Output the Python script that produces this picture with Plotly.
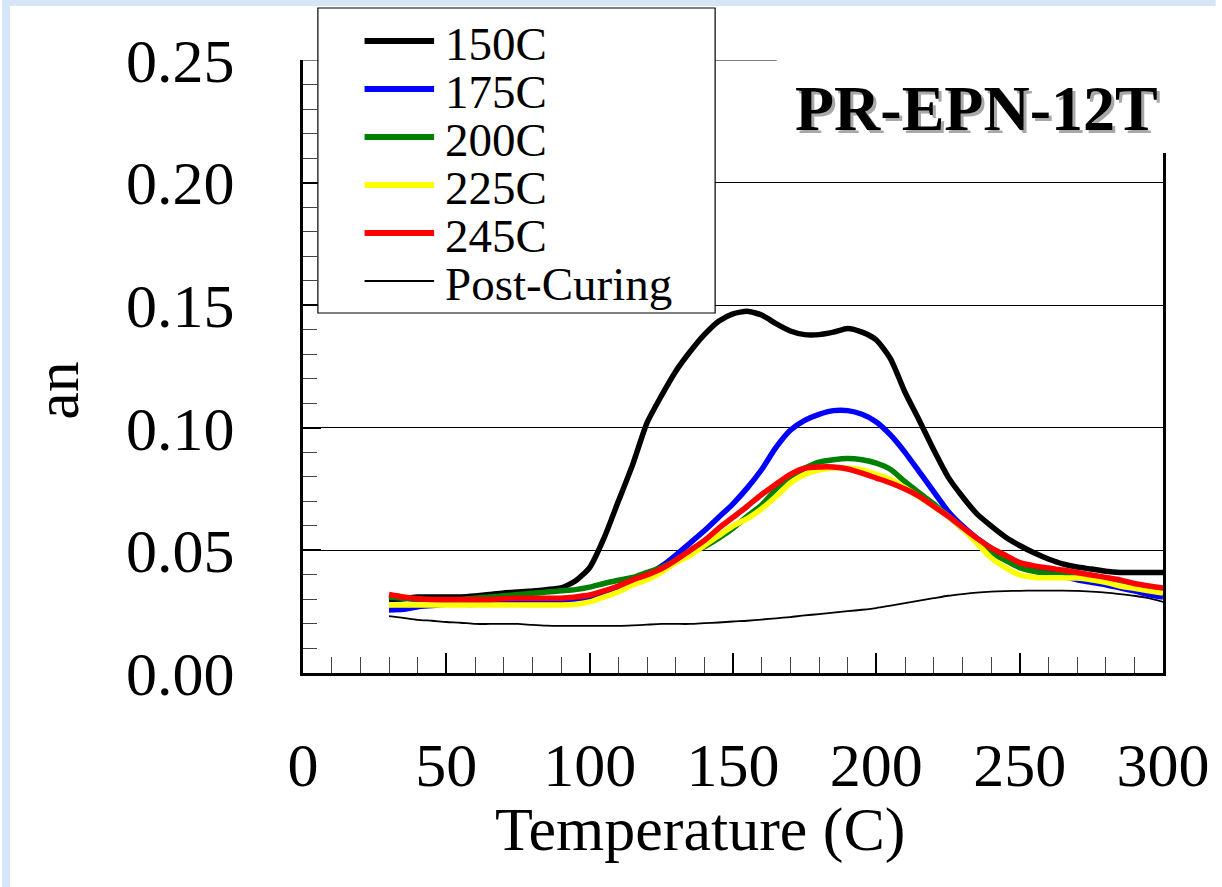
import plotly.graph_objects as go

# ---------------- data ----------------
temperature = [30, 35, 40, 45, 50, 55, 60, 65, 70, 75, 80, 85, 90, 95, 100, 105, 110, 115, 120, 125,
               130, 135, 140, 145, 150, 155, 160, 165, 170, 175, 180, 185, 190, 195, 200, 205, 210,
               215, 220, 225, 230, 235, 240, 245, 250, 255, 260, 265, 270, 275, 280, 285, 290, 295, 300]

tan_150C = [0.030, 0.0303, 0.031, 0.031, 0.031, 0.031, 0.0314, 0.032, 0.0326, 0.033, 0.0334, 0.034,
            0.0347, 0.0375, 0.043, 0.055, 0.070, 0.085, 0.102, 0.113, 0.123, 0.131, 0.138, 0.1435,
            0.1465, 0.1475, 0.146, 0.1425, 0.1395, 0.138, 0.138, 0.139, 0.1405, 0.139, 0.1358, 0.128,
            0.1145, 0.103, 0.091, 0.080, 0.072, 0.065, 0.060, 0.0555, 0.052, 0.049, 0.0465, 0.0445,
            0.0432, 0.0424, 0.0415, 0.041, 0.041, 0.041, 0.041]

tan_175C = [0.0257, 0.026, 0.027, 0.0275, 0.028, 0.028, 0.028, 0.0285, 0.0285, 0.029, 0.029, 0.029,
            0.029, 0.0295, 0.031, 0.033, 0.035, 0.037, 0.040, 0.0435, 0.048, 0.053, 0.058, 0.0635,
            0.069, 0.0755, 0.083, 0.092, 0.099, 0.103, 0.1055, 0.107, 0.107, 0.1055, 0.1024, 0.097,
            0.090, 0.082, 0.074, 0.066, 0.060, 0.055, 0.051, 0.047, 0.044, 0.042, 0.041, 0.0395,
            0.038, 0.037, 0.036, 0.0347, 0.0335, 0.032, 0.031]

tan_200C = [0.031, 0.0305, 0.030, 0.030, 0.030, 0.030, 0.0305, 0.031, 0.0315, 0.032, 0.0325, 0.033,
            0.0335, 0.034, 0.035, 0.0365, 0.0378, 0.039, 0.041, 0.043, 0.046, 0.049, 0.0515, 0.055,
            0.059, 0.064, 0.0685, 0.075, 0.080, 0.0835, 0.086, 0.087, 0.0875, 0.087, 0.0856, 0.083,
            0.078, 0.0734, 0.069, 0.064, 0.059, 0.054, 0.049, 0.046, 0.043, 0.0415, 0.0405, 0.040,
            0.039, 0.038, 0.037, 0.036, 0.035, 0.034, 0.033]

tan_225C = [0.0277, 0.0277, 0.0277, 0.0277, 0.0277, 0.0277, 0.0277, 0.0277, 0.0277, 0.0277, 0.0277,
            0.0277, 0.0277, 0.028, 0.029, 0.031, 0.033, 0.036, 0.038, 0.041, 0.045, 0.048, 0.052,
            0.056, 0.060, 0.063, 0.067, 0.072, 0.0775, 0.081, 0.0828, 0.0836, 0.0836, 0.0828, 0.081,
            0.079, 0.0755, 0.0718, 0.068, 0.064, 0.059, 0.053, 0.047, 0.043, 0.040, 0.039, 0.0388,
            0.0388, 0.0387, 0.038, 0.037, 0.0355, 0.0345, 0.0335, 0.0326]

tan_245C = [0.032, 0.031, 0.0303, 0.030, 0.030, 0.030, 0.030, 0.030, 0.0303, 0.0305, 0.0305, 0.0305,
            0.0305, 0.031, 0.0318, 0.0335, 0.0355, 0.038, 0.040, 0.0425, 0.046, 0.050, 0.054, 0.059,
            0.0635, 0.068, 0.0728, 0.077, 0.081, 0.0835, 0.084, 0.084, 0.0832, 0.0815, 0.0795, 0.0775,
            0.075, 0.072, 0.068, 0.064, 0.0595, 0.055, 0.051, 0.048, 0.045, 0.0437, 0.0428, 0.042,
            0.041, 0.040, 0.039, 0.038, 0.0365, 0.0355, 0.0347]

tan_post = [0.0232, 0.0225, 0.0217, 0.0213, 0.0208, 0.0205, 0.020, 0.020, 0.020, 0.020, 0.0196, 0.0193,
            0.0192, 0.0192, 0.0192, 0.0192, 0.0192, 0.0194, 0.0197, 0.020, 0.020, 0.020, 0.0203,
            0.0206, 0.021, 0.0213, 0.0218, 0.0223, 0.0228, 0.0235, 0.024, 0.0246, 0.0252, 0.0258,
            0.0265, 0.0275, 0.0285, 0.0295, 0.0305, 0.0315, 0.0322, 0.0328, 0.0332, 0.0334, 0.0335,
            0.0336, 0.0336, 0.0336, 0.0335, 0.0332, 0.0328, 0.0322, 0.0315, 0.0305, 0.029]

series_names = ["150C", "175C", "200C", "225C", "245C", "Post-Curing"]
series_values = [tan_150C, tan_175C, tan_200C, tan_225C, tan_245C, tan_post]
series_colors = ["#000000", "#0000ff", "#008000", "#ffff00", "#ff0000", "#000000"]
series_widths = [5.5, 5.5, 5.5, 5.5, 5.5, 1.8]

x_tickvals = [0, 50, 100, 150, 200, 250, 300]
y_tickvals = [0.00, 0.05, 0.10, 0.15, 0.20, 0.25]
y_ticktext = ["0.00", "0.05", "0.10", "0.15", "0.20", "0.25"]

chart_title = "PR-EPN-12T"
x_title = "Temperature (C)"
y_title = "an"

FONT = "Liberation Serif, Times New Roman, serif"

# --------------- figure ----------------
W, H = 1222, 887
L, R, T, B = 303, 1169, 60, 673


def px_x(p):
    return (p - L) / (R - L)


def px_y(p):
    return (B - p) / (B - T)


fig = go.Figure()

# draw post-curing first, then coloured curves in legend order
order = [5, 0, 1, 2, 3, 4]
for i in order:
    fig.add_trace(go.Scatter(
        x=temperature, y=series_values[i], mode="lines", name=series_names[i],
        line=dict(color=series_colors[i], width=series_widths[i], shape="spline", smoothing=0.6),
        showlegend=False,
    ))

shapes = []
annotations = []

# blue textured border strips (left and top)
shapes.append(dict(type="rect", xref="paper", yref="paper", x0=px_x(0), x1=px_x(8), y0=px_y(H), y1=px_y(0),
                   fillcolor="#d6e6f8", line=dict(width=0), layer="below"))
shapes.append(dict(type="rect", xref="paper", yref="paper", x0=px_x(0), x1=px_x(W), y0=px_y(6), y1=px_y(0),
                   fillcolor="#d6e6f8", line=dict(width=0), layer="below"))

# top gridline at 0.25
shapes.append(dict(type="line", xref="x", yref="y", x0=0, x1=300, y0=0.25, y1=0.25,
                   line=dict(color="#000000", width=1), layer="below"))

# title background (hides the gridline / right border near the title)
shapes.append(dict(type="rect", xref="paper", yref="paper", x0=px_x(780), x1=px_x(1185), y0=px_y(153), y1=px_y(45),
                   fillcolor="white", line=dict(width=0), layer="above"))

# legend box
leg_x0, leg_x1, leg_y0, leg_y1 = 318, 718, 8, 313
shapes.append(dict(type="rect", xref="paper", yref="paper", x0=px_x(leg_x0), x1=px_x(leg_x1),
                   y0=px_y(leg_y1), y1=px_y(leg_y0), fillcolor="white",
                   line=dict(color="#000000", width=1.2), layer="above"))
for k, name in enumerate(series_names):
    yc = 41 + k * 48
    shapes.append(dict(type="line", xref="paper", yref="paper", x0=px_x(365), x1=px_x(435),
                       y0=px_y(yc), y1=px_y(yc),
                       line=dict(color=series_colors[k], width=series_widths[k] + (0.5 if k < 5 else 0)),
                       layer="above"))
    annotations.append(dict(text=name, xref="paper", yref="paper", x=px_x(444), y=px_y(yc + 3),
                            xanchor="left", yanchor="middle", showarrow=False,
                            font=dict(family=FONT, size=47, color="#000000")))

# title with drop shadow
for dx, col in [(3, "#a8a8a8"), (0, "#000000")]:
    annotations.append(dict(text="<b>" + chart_title + "</b>", xref="paper", yref="paper",
                            x=px_x(981 + dx), y=px_y(108 + dx), xanchor="center", yanchor="middle",
                            showarrow=False, font=dict(family=FONT, size=64, color=col)))

# axis titles
annotations.append(dict(text=x_title, xref="paper", yref="paper", x=px_x(703), y=px_y(829),
                        xanchor="center", yanchor="middle", showarrow=False,
                        font=dict(family=FONT, size=62, color="#000000")))
annotations.append(dict(text=y_title, xref="paper", yref="paper", x=px_x(55), y=px_y(390),
                        xanchor="center", yanchor="middle", showarrow=False, textangle=-90,
                        font=dict(family=FONT, size=62, color="#000000")))

fig.update_layout(
    width=W, height=H,
    margin=dict(l=L, r=W - R, t=T, b=H - B, pad=0),
    paper_bgcolor="white", plot_bgcolor="white",
    showlegend=False,
    shapes=shapes, annotations=annotations,
    font=dict(family=FONT, color="#000000"),
)

fig.update_xaxes(
    range=[0, 300], tickvals=x_tickvals, ticks="inside", ticklen=20, tickwidth=1.5, tickcolor="#000000",
    minor=dict(dtick=10, ticks="inside", ticklen=16, tickwidth=1.2, tickcolor="#444444"),
    showline=True, linecolor="#000000", linewidth=3, mirror=False,
    showgrid=False, zeroline=False,
    tickfont=dict(family=FONT, size=62, color="#000000"), ticklabelstandoff=36,
)
fig.update_yaxes(
    range=[0, 0.25], tickvals=y_tickvals, ticktext=y_ticktext, ticks="inside", ticklen=18, tickwidth=1.5,
    tickcolor="#000000",
    minor=dict(dtick=0.01, ticks="inside", ticklen=14, tickwidth=1.2, tickcolor="#444444"),
    showline=True, linecolor="#000000", linewidth=3, mirror=True,
    showgrid=True, gridcolor="#000000", gridwidth=1, zeroline=False,
    tickfont=dict(family=FONT, size=62, color="#000000"), ticklabelstandoff=53,
)

fig.write_html("out.html")
